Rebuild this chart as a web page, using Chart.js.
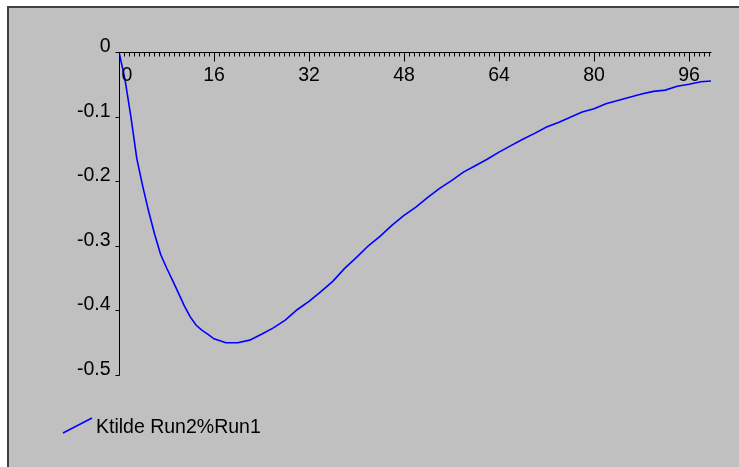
<!DOCTYPE html>
<html>
<head>
<meta charset="utf-8">
<script src="https://cdn.jsdelivr.net/npm/chart.js@4.4.1/dist/chart.umd.min.js"></script>
<style>
  html, body { margin: 0; padding: 0; background: #fff; }
  #wrap { width: 739px; height: 467px; }
</style>
</head>
<body>
<div id="wrap"><canvas id="chart"></canvas></div>
<script>
// values
var xValues = [0, 1, 2, 3, 4, 5, 6, 7, 8, 9, 10, 11, 12, 13, 14, 15, 16, 18, 20, 22, 24, 26, 28, 30,
  32, 34, 36, 38, 40, 42, 44, 46, 48, 50, 52, 54, 56, 58, 60, 62, 64, 66, 68, 70, 72, 74, 76, 78,
  80, 82, 84, 86, 88, 90, 92, 94, 96, 98, 99.7];
var yValues = [0, -0.042, -0.100, -0.165, -0.208, -0.247, -0.282, -0.313, -0.334, -0.353, -0.373,
  -0.393, -0.410, -0.423, -0.431, -0.437, -0.444, -0.450, -0.450, -0.446, -0.437, -0.427, -0.415,
  -0.399, -0.386, -0.371, -0.355, -0.335, -0.318, -0.300, -0.285, -0.268, -0.253, -0.240, -0.225,
  -0.211, -0.199, -0.186, -0.176, -0.166, -0.155, -0.145, -0.135, -0.126, -0.116, -0.109, -0.101,
  -0.093, -0.088, -0.080, -0.075, -0.070, -0.065, -0.061, -0.059, -0.053, -0.050, -0.046, -0.045];
var xTickLabels = [0, 16, 32, 48, 64, 80, 96];
var yTickLabels = [0, -0.1, -0.2, -0.3, -0.4, -0.5];
var seriesName = "Ktilde Run2%Run1";

var points = [];
for (var i = 0; i < xValues.length; i++) {
  points.push({ x: xValues[i], y: yValues[i] });
}

var font = "19.5px 'Liberation Sans', Arial, sans-serif";

var frame = {
  id: "frame",
  beforeDraw: function(chart) {
    var c = chart.ctx;
    c.save();
    c.fillStyle = "#ffffff";
    c.fillRect(0, 0, chart.width, chart.height);
    c.fillStyle = "#c0c0c0";
    c.fillRect(7, 6, chart.width - 7, chart.height - 6);
    c.fillStyle = "#404040";
    c.fillRect(7, 6, chart.width - 7, 2);
    c.fillRect(7, 6, 2, chart.height - 6);
    c.restore();
  },
  afterDraw: function(chart) {
    var c = chart.ctx;
    var xs = chart.scales.x, ys = chart.scales.y;
    var y0 = Math.round(ys.getPixelForValue(0)) + 0.5;
    var x0 = Math.round(xs.getPixelForValue(0)) + 0.5;
    c.save();
    c.strokeStyle = "#000";
    c.lineWidth = 1;
    c.beginPath();
    // axes
    c.moveTo(x0, y0);
    c.lineTo(Math.round(xs.getPixelForValue(xs.max)) + 0.5, y0);
    c.moveTo(x0, y0);
    c.lineTo(x0, Math.round(ys.getPixelForValue(-0.5)) + 0.5);
    // minor ticks on x
    var step = 16 / 19;
    for (var v = step; v <= xs.max + 0.01; v += step) {
      var px = Math.round(xs.getPixelForValue(v)) + 0.5;
      c.moveTo(px, y0);
      c.lineTo(px, y0 + 4);
    }
    // major ticks on x
    xTickLabels.forEach(function(t) {
      if (t === 0) return;
      var px = Math.round(xs.getPixelForValue(t)) + 0.5;
      c.moveTo(px, y0);
      c.lineTo(px, y0 + 9);
    });
    // ticks on y
    yTickLabels.forEach(function(t) {
      var py = Math.round(ys.getPixelForValue(t)) + 0.5;
      c.moveTo(x0 - 4, py);
      c.lineTo(x0, py);
    });
    c.stroke();

    c.fillStyle = "#000";
    c.font = font;
    c.textAlign = "center";
    c.textBaseline = "alphabetic";
    xTickLabels.forEach(function(t) {
      var px = xs.getPixelForValue(t);
      if (t === 0) px += 8;
      c.fillText(String(t), px, y0 + 28);
    });
    c.textAlign = "right";
    yTickLabels.forEach(function(t) {
      var py = ys.getPixelForValue(t);
      c.fillText(String(t), x0 - 9, py);
    });

    // legend
    c.strokeStyle = "#0000ff";
    c.lineWidth = 1.5;
    c.beginPath();
    c.moveTo(63, 433);
    c.lineTo(92, 418);
    c.stroke();
    c.textAlign = "left";
    c.fillText(seriesName, 96, 433);
    c.restore();
  }
};

var chart = new Chart(document.getElementById("chart"), {
  type: "line",
  data: {
    datasets: [{
      label: seriesName,
      data: points,
      borderColor: "#0000ff",
      borderWidth: 1.6,
      pointRadius: 0,
      tension: 0,
      fill: false
    }]
  },
  options: {
    responsive: true,
    maintainAspectRatio: false,
    animation: false,
    layout: { padding: { left: 119, right: 28, top: 52, bottom: 92 } },
    plugins: { legend: { display: false }, tooltip: { enabled: false } },
    scales: {
      x: { type: "linear", min: 0, max: 99.7, display: false },
      y: { type: "linear", min: -0.5, max: 0, display: false }
    }
  },
  plugins: [frame]
});
</script>
</body>
</html>
